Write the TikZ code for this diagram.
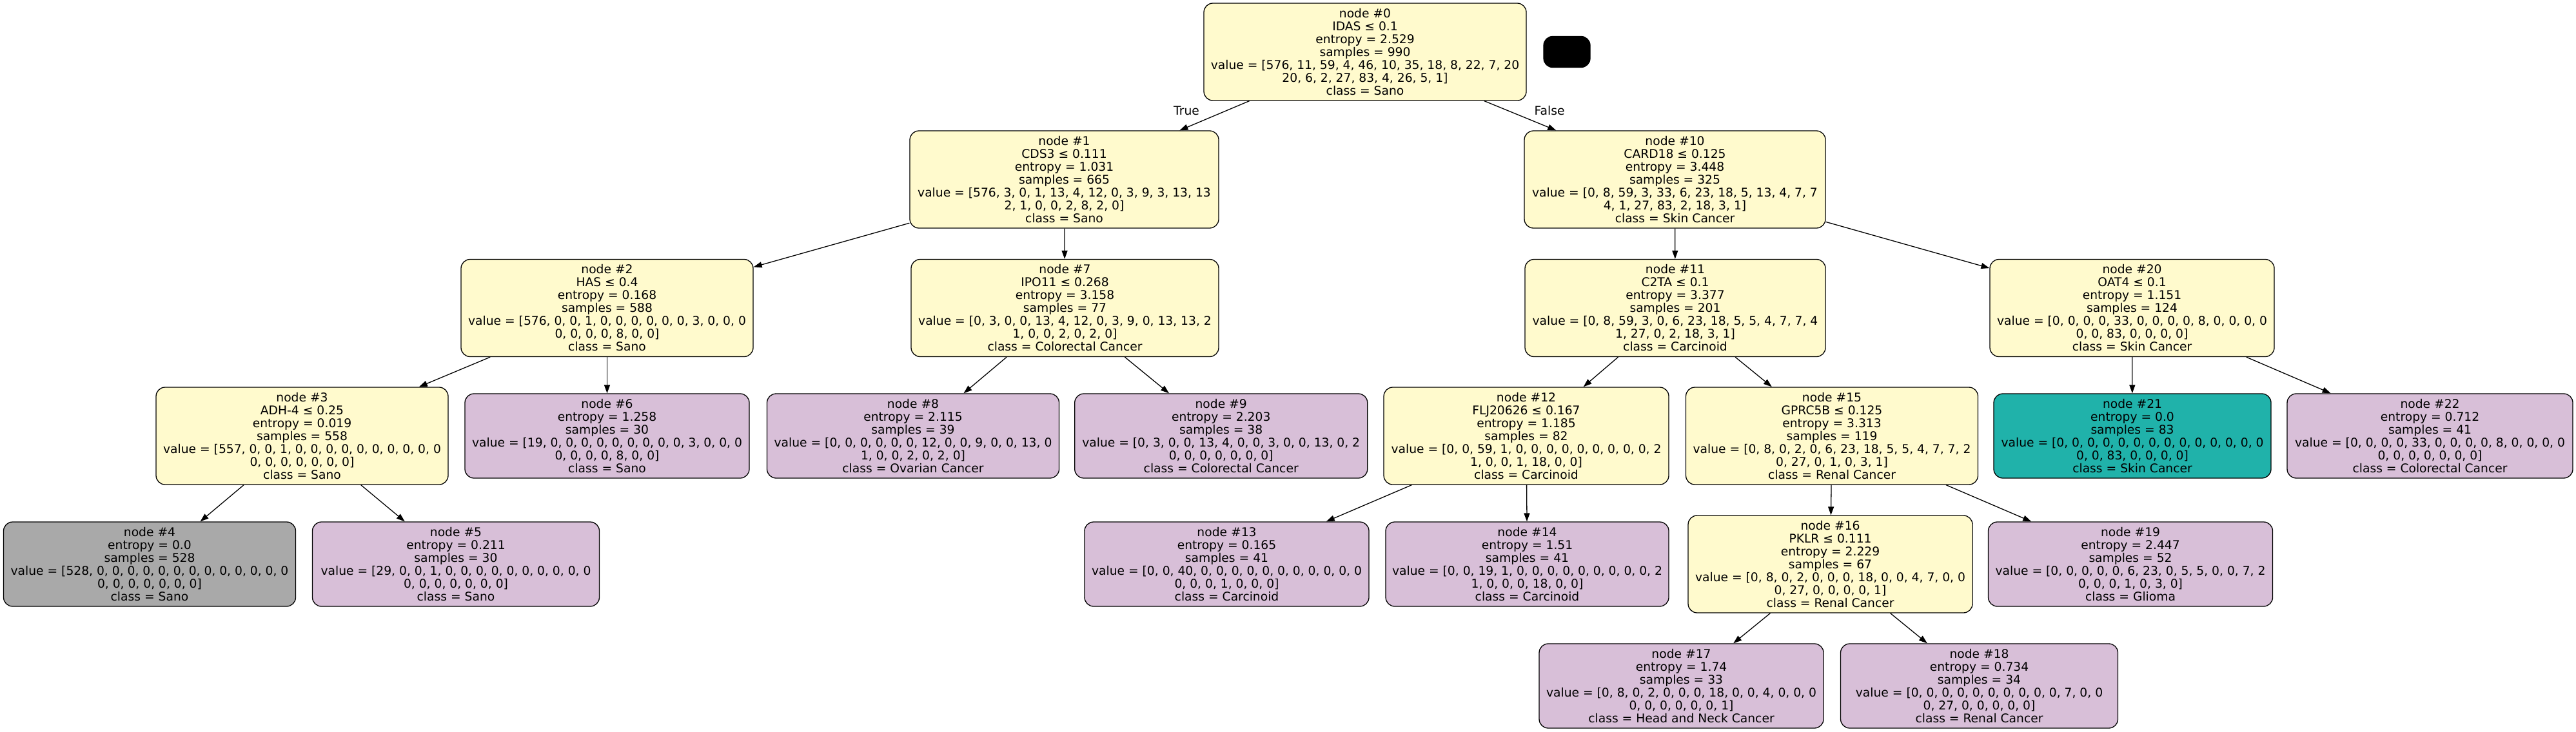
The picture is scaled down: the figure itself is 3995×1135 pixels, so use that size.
\documentclass[tikz,border=0pt]{standalone}
\usepackage{fontspec}
\setmainfont{DejaVu Sans}
\usetikzlibrary{arrows.meta}
\definecolor{lemon}{HTML}{FFFACD}
\definecolor{thist}{HTML}{D8BFD8}
\definecolor{seagr}{HTML}{20B2AA}
\definecolor{dgray}{HTML}{A9A9A9}
\tikzset{
  tnode/.style={draw=black, line width=1.3pt, rounded corners=14pt, inner sep=0pt, align=center, font=\fontsize{18.7}{20}\selectfont},
  inner/.style={tnode, fill=lemon, minimum height=151pt},
  leafp/.style={tnode, fill=thist, minimum height=131pt},
  leafg/.style={tnode, fill=seagr, minimum height=131pt},
  leafd/.style={tnode, fill=dgray, minimum height=131pt},
  tarrow/.style={draw=black, line width=1.3pt, -{Triangle[length=13pt,width=9pt]}},
  lbl/.style={inner sep=0pt, font=\fontsize{18.7}{20}\selectfont},
}
\begin{document}
\begin{tikzpicture}[x=1pt,y=-1pt]
\useasboundingbox (0,0) rectangle (3995,1135);
% row 0
\node[inner, minimum width=500pt] (n0) at (2117,80.5) {node \#0\\IDAS ≤ 0.1\\entropy = 2.529\\samples = 990\\value = [576, 11, 59, 4, 46, 10, 35, 18, 8, 22, 7, 20\\20, 6, 2, 27, 83, 4, 26, 5, 1]\\class = Sano};
\node[draw=black, fill=black, line width=1.3pt, rounded corners=14pt, minimum width=72pt, minimum height=48pt, inner sep=0pt] (legend) at (2430,80.5) {};
% row 1
\node[inner, minimum width=479pt] (n1) at (1650.5,278.5) {node \#1\\CDS3 ≤ 0.111\\entropy = 1.031\\samples = 665\\value = [576, 3, 0, 1, 13, 4, 12, 0, 3, 9, 3, 13, 13\\2, 1, 0, 0, 2, 8, 2, 0]\\class = Sano};
\node[inner, minimum width=467pt] (n10) at (2597.5,278.5) {node \#10\\CARD18 ≤ 0.125\\entropy = 3.448\\samples = 325\\value = [0, 8, 59, 3, 33, 6, 23, 18, 5, 13, 4, 7, 7\\4, 1, 27, 83, 2, 18, 3, 1]\\class = Skin Cancer};
% row 2
\node[inner, minimum width=453pt] (n2) at (941.5,478) {node \#2\\HAS ≤ 0.4\\entropy = 0.168\\samples = 588\\value = [576, 0, 0, 1, 0, 0, 0, 0, 0, 0, 3, 0, 0, 0\\0, 0, 0, 0, 8, 0, 0]\\class = Sano};
\node[inner, minimum width=477pt] (n7) at (1651.5,478) {node \#7\\IPO11 ≤ 0.268\\entropy = 3.158\\samples = 77\\value = [0, 3, 0, 0, 13, 4, 12, 0, 3, 9, 0, 13, 13, 2\\1, 0, 0, 2, 0, 2, 0]\\class = Colorectal Cancer};
\node[inner, minimum width=466pt] (n11) at (2598,478) {node \#11\\C2TA ≤ 0.1\\entropy = 3.377\\samples = 201\\value = [0, 8, 59, 3, 0, 6, 23, 18, 5, 5, 4, 7, 7, 4\\1, 27, 0, 2, 18, 3, 1]\\class = Carcinoid};
\node[inner, minimum width=441pt] (n20) at (3306.5,478) {node \#20\\OAT4 ≤ 0.1\\entropy = 1.151\\samples = 124\\value = [0, 0, 0, 0, 33, 0, 0, 0, 0, 8, 0, 0, 0, 0\\0, 0, 83, 0, 0, 0, 0]\\class = Skin Cancer};
% row 3
\node[inner, minimum width=453pt] (n3) at (468.5,676.5) {node \#3\\ADH-4 ≤ 0.25\\entropy = 0.019\\samples = 558\\value = [557, 0, 0, 1, 0, 0, 0, 0, 0, 0, 0, 0, 0, 0\\0, 0, 0, 0, 0, 0, 0]\\class = Sano};
\node[leafp, minimum width=441pt] (n6) at (941.5,676.5) {node \#6\\entropy = 1.258\\samples = 30\\value = [19, 0, 0, 0, 0, 0, 0, 0, 0, 0, 3, 0, 0, 0\\0, 0, 0, 0, 8, 0, 0]\\class = Sano};
\node[leafp, minimum width=453pt] (n8) at (1416,676.5) {node \#8\\entropy = 2.115\\samples = 39\\value = [0, 0, 0, 0, 0, 0, 12, 0, 0, 9, 0, 0, 13, 0\\1, 0, 0, 2, 0, 2, 0]\\class = Ovarian Cancer};
\node[leafp, minimum width=454pt] (n9) at (1893.7,676.5) {node \#9\\entropy = 2.203\\samples = 38\\value = [0, 3, 0, 0, 13, 4, 0, 0, 3, 0, 0, 13, 0, 2\\0, 0, 0, 0, 0, 0, 0]\\class = Colorectal Cancer};
\node[inner, minimum width=442pt] (n12) at (2367,676.5) {node \#12\\FLJ20626 ≤ 0.167\\entropy = 1.185\\samples = 82\\value = [0, 0, 59, 1, 0, 0, 0, 0, 0, 0, 0, 0, 0, 2\\1, 0, 0, 1, 18, 0, 0]\\class = Carcinoid};
\node[inner, minimum width=453pt] (n15) at (2841,676.5) {node \#15\\GPRC5B ≤ 0.125\\entropy = 3.313\\samples = 119\\value = [0, 8, 0, 2, 0, 6, 23, 18, 5, 5, 4, 7, 7, 2\\0, 27, 0, 1, 0, 3, 1]\\class = Renal Cancer};
\node[leafg, minimum width=430pt] (n21) at (3307,676.5) {node \#21\\entropy = 0.0\\samples = 83\\value = [0, 0, 0, 0, 0, 0, 0, 0, 0, 0, 0, 0, 0, 0\\0, 0, 83, 0, 0, 0, 0]\\class = Skin Cancer};
\node[leafp, minimum width=443pt] (n22) at (3768.5,676.5) {node \#22\\entropy = 0.712\\samples = 41\\value = [0, 0, 0, 0, 33, 0, 0, 0, 0, 8, 0, 0, 0, 0\\0, 0, 0, 0, 0, 0, 0]\\class = Colorectal Cancer};
% row 4
\node[leafd, minimum width=453pt] (n4) at (232,875.5) {node \#4\\entropy = 0.0\\samples = 528\\value = [528, 0, 0, 0, 0, 0, 0, 0, 0, 0, 0, 0, 0, 0\\0, 0, 0, 0, 0, 0, 0]\\class = Sano};
\node[leafp, minimum width=445pt] (n5) at (707,875.5) {node \#5\\entropy = 0.211\\samples = 30\\value = [29, 0, 0, 1, 0, 0, 0, 0, 0, 0, 0, 0, 0, 0\\0, 0, 0, 0, 0, 0, 0]\\class = Sano};
\node[leafp, minimum width=441pt] (n13) at (1902.5,875.5) {node \#13\\entropy = 0.165\\samples = 41\\value = [0, 0, 40, 0, 0, 0, 0, 0, 0, 0, 0, 0, 0, 0\\0, 0, 0, 1, 0, 0, 0]\\class = Carcinoid};
\node[leafp, minimum width=439pt] (n14) at (2368.5,875.5) {node \#14\\entropy = 1.51\\samples = 41\\value = [0, 0, 19, 1, 0, 0, 0, 0, 0, 0, 0, 0, 0, 2\\1, 0, 0, 0, 18, 0, 0]\\class = Carcinoid};
\node[inner, minimum width=441pt] (n16) at (2838.5,875.5) {node \#16\\PKLR ≤ 0.111\\entropy = 2.229\\samples = 67\\value = [0, 8, 0, 2, 0, 0, 0, 18, 0, 0, 4, 7, 0, 0\\0, 27, 0, 0, 0, 0, 1]\\class = Renal Cancer};
\node[leafp, minimum width=441pt] (n19) at (3304,875.5) {node \#19\\entropy = 2.447\\samples = 52\\value = [0, 0, 0, 0, 0, 6, 23, 0, 5, 5, 0, 0, 7, 2\\0, 0, 0, 1, 0, 3, 0]\\class = Glioma};
% row 5
\node[leafp, minimum width=441pt] (n17) at (2607.5,1064.5) {node \#17\\entropy = 1.74\\samples = 33\\value = [0, 8, 0, 2, 0, 0, 0, 18, 0, 0, 4, 0, 0, 0\\0, 0, 0, 0, 0, 0, 1]\\class = Head and Neck Cancer};
\node[leafp, minimum width=430pt] (n18) at (3069.5,1064.5) {node \#18\\entropy = 0.734\\samples = 34\\value = [0, 0, 0, 0, 0, 0, 0, 0, 0, 0, 7, 0, 0\\0, 27, 0, 0, 0, 0, 0]\\class = Renal Cancer};
% edges
\draw[tarrow] (n0) -- (n1);
\draw[tarrow] (n0) -- (n10);
\node[lbl] (tlbl) at (1840,172) {True};
\node[lbl] (flbl) at (2403,172) {False};
\draw[tarrow] (n1) -- (n2);
\draw[tarrow] (n1) -- (n7);
\draw[tarrow] (n10) -- (n11);
\draw[tarrow] (n10) -- (n20);
\draw[tarrow] (n2) -- (n3);
\draw[tarrow] (n2) -- (n6);
\draw[tarrow] (n7) -- (n8);
\draw[tarrow] (n7) -- (n9);
\draw[tarrow] (n11) -- (n12);
\draw[tarrow] (n11) -- (n15);
\draw[tarrow] (n20) -- (n21);
\draw[tarrow] (n20) -- (n22);
\draw[tarrow] (n3) -- (n4);
\draw[tarrow] (n3) -- (n5);
\draw[tarrow] (n12) -- (n13);
\draw[tarrow] (n12) -- (n14);
\draw[tarrow] (n15) -- (n16);
\draw[tarrow] (n15) -- (n19);
\draw[tarrow] (n16) -- (n17);
\draw[tarrow] (n16) -- (n18);
\end{tikzpicture}
\end{document}
